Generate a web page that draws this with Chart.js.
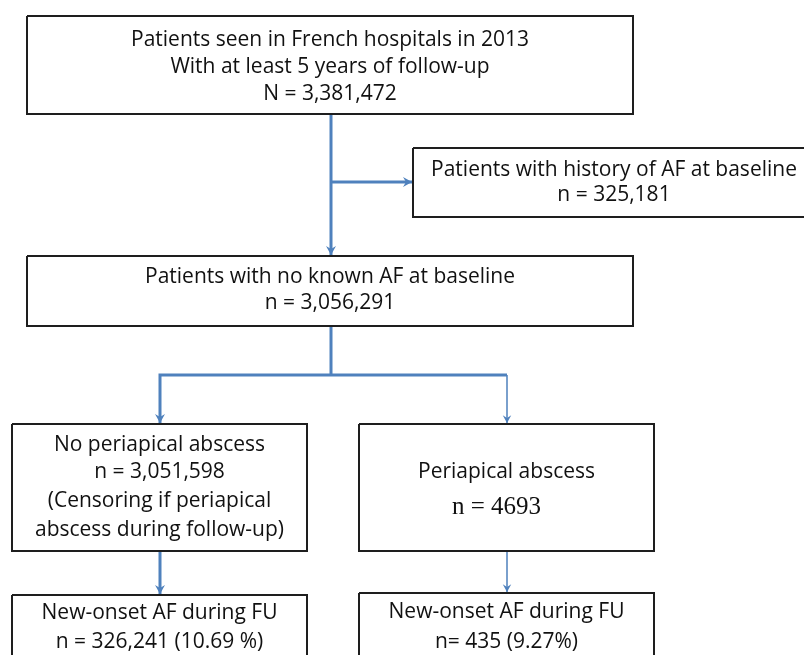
<!DOCTYPE html>
<html>
<head>
<meta charset="utf-8">
<script src="https://cdn.jsdelivr.net/npm/chart.js@4/dist/chart.umd.min.js"></script>
<style>
  html, body { margin: 0; padding: 0; background: #ffffff; }
  #wrap { width: 804px; height: 655px; }
</style>
</head>
<body>
<div id="wrap"><canvas id="c" width="804" height="655"></canvas></div>
<script>
// ---- Flowchart content (node texts) ----
const boxTexts = [
  ["Patients seen in French hospitals in 2013", "With at least 5 years of follow-up", "N = 3,381,472"],
  ["Patients with history of AF at baseline", "n = 325,181"],
  ["Patients with no known AF at baseline", "n = 3,056,291"],
  ["No periapical abscess", "n = 3,051,598", "(Censoring if periapical", "abscess during follow-up)"],
  ["Periapical abscess", "n = 4693"],
  ["New-onset AF during FU", "n = 326,241 (10.69 %)"],
  ["New-onset AF during FU", "n= 435 (9.27%)"]
];
// counts shown in the nodes
const counts = [3381472, 325181, 3056291, 3051598, 4693, 326241, 435];

// ---- Node geometry in chart units (x: 0..804, y: 0..655 top-down) ----
const boxLeft   = [27, 413, 27, 12, 359, 12, 359];
const boxRight  = [633, 815, 633, 307, 654, 307, 654];
const boxTop    = [16, 148, 256, 424, 424, 595, 593];
const boxBottom = [114, 217, 326, 551, 551, 680, 680];
const lineY = [
  [40, 67, 94],
  [170, 195],
  [277, 303],
  [445, 472, 501, 530],
  [472, 507],
  [613, 642],
  [612, 642]
];
// which text lines use the serif face
const serifLines = [[4, 1]];

// ---- Connectors (polyline point lists), arrow flag, width ----
const connectors = [
  { pts: [[331, 114], [331, 255]], arrow: true, w: 3 },
  { pts: [[331, 182], [412, 182]], arrow: true, w: 3 },
  { pts: [[331, 326], [331, 375]], arrow: false, w: 3 },
  { pts: [[507, 375], [160, 375], [160, 423]], arrow: true, w: 3 },
  { pts: [[507, 375], [507, 423]], arrow: true, w: 1.5 },
  { pts: [[160, 551], [160, 594]], arrow: true, w: 3 },
  { pts: [[507, 551], [507, 592]], arrow: true, w: 1.5 }
];

const BLUE = 'rgb(79,129,189)';
const DARK = '#1e1e1e';

const datasets = [];
for (let i = 0; i < boxTexts.length; i++) {
  datasets.push({
    label: 'box' + i,
    data: [
      {x: boxLeft[i], y: boxTop[i]}, {x: boxRight[i], y: boxTop[i]},
      {x: boxRight[i], y: boxBottom[i]}, {x: boxLeft[i], y: boxBottom[i]},
      {x: boxLeft[i], y: boxTop[i]}
    ],
    showLine: true, borderColor: DARK, borderWidth: 2, pointRadius: 0,
    fill: false, tension: 0, borderJoinStyle: 'miter', kind: 'box', idx: i
  });
}
connectors.forEach((c, j) => {
  datasets.push({
    label: 'conn' + j,
    data: c.pts.map(p => ({x: p[0], y: p[1]})),
    showLine: true, borderColor: BLUE, borderWidth: c.w, pointRadius: 0,
    fill: false, tension: 0, borderJoinStyle: 'miter', kind: 'conn', arrow: c.arrow
  });
});

const flowPlugin = {
  id: 'flow',
  beforeDraw(chart) {
    const ctx = chart.ctx;
    ctx.save();
    ctx.fillStyle = '#ffffff';
    ctx.fillRect(0, 0, chart.width, chart.height);
    ctx.restore();
  },
  afterDatasetsDraw(chart) {
    const ctx = chart.ctx;
    const xs = chart.scales.x, ys = chart.scales.y;
    // arrowheads
    chart.data.datasets.forEach(ds => {
      if (ds.kind !== 'conn' || !ds.arrow) return;
      const n = ds.data.length;
      const a = ds.data[n - 2], b = ds.data[n - 1];
      const x1 = xs.getPixelForValue(a.x), y1 = ys.getPixelForValue(a.y);
      const x2 = xs.getPixelForValue(b.x), y2 = ys.getPixelForValue(b.y);
      const ang = Math.atan2(y2 - y1, x2 - x1);
      const s = ds.borderWidth > 2 ? 1 : 0.85;
      ctx.save();
      ctx.translate(x2, y2);
      ctx.rotate(ang);
      ctx.fillStyle = BLUE;
      ctx.beginPath();
      ctx.moveTo(0, 0);
      ctx.lineTo(-9 * s, -5 * s);
      ctx.lineTo(-6 * s, 0);
      ctx.lineTo(-9 * s, 5 * s);
      ctx.closePath();
      ctx.fill();
      ctx.restore();
    });
    // texts
    ctx.save();
    ctx.fillStyle = '#111111';
    ctx.textAlign = 'center';
    ctx.textBaseline = 'middle';
    boxTexts.forEach((lines, i) => {
      const cx = xs.getPixelForValue((boxLeft[i] + Math.min(boxRight[i], 815)) / 2);
      lines.forEach((t, k) => {
        const isSerif = serifLines.some(p => p[0] === i && p[1] === k);
        ctx.font = isSerif ? '25px "Liberation Serif", serif' : '21px "Open Sans", Lato, sans-serif';
        const cy = ys.getPixelForValue(lineY[i][k]);
        let dx = 0;
        if (isSerif) dx = -10;
        ctx.fillText(t, cx + dx, cy);
      });
    });
    ctx.restore();
  }
};

new Chart(document.getElementById('c'), {
  type: 'scatter',
  data: { datasets },
  options: {
    responsive: false,
    devicePixelRatio: 1,
    animation: false,
    layout: { padding: 0 },
    plugins: { legend: { display: false }, tooltip: { enabled: false }, title: { display: false } },
    scales: {
      x: { type: 'linear', min: 0, max: 804, display: false },
      y: { type: 'linear', min: 0, max: 655, reverse: true, display: false }
    },
    elements: { line: { capBezierPoints: false } }
  },
  plugins: [flowPlugin]
});
</script>
</body>
</html>
